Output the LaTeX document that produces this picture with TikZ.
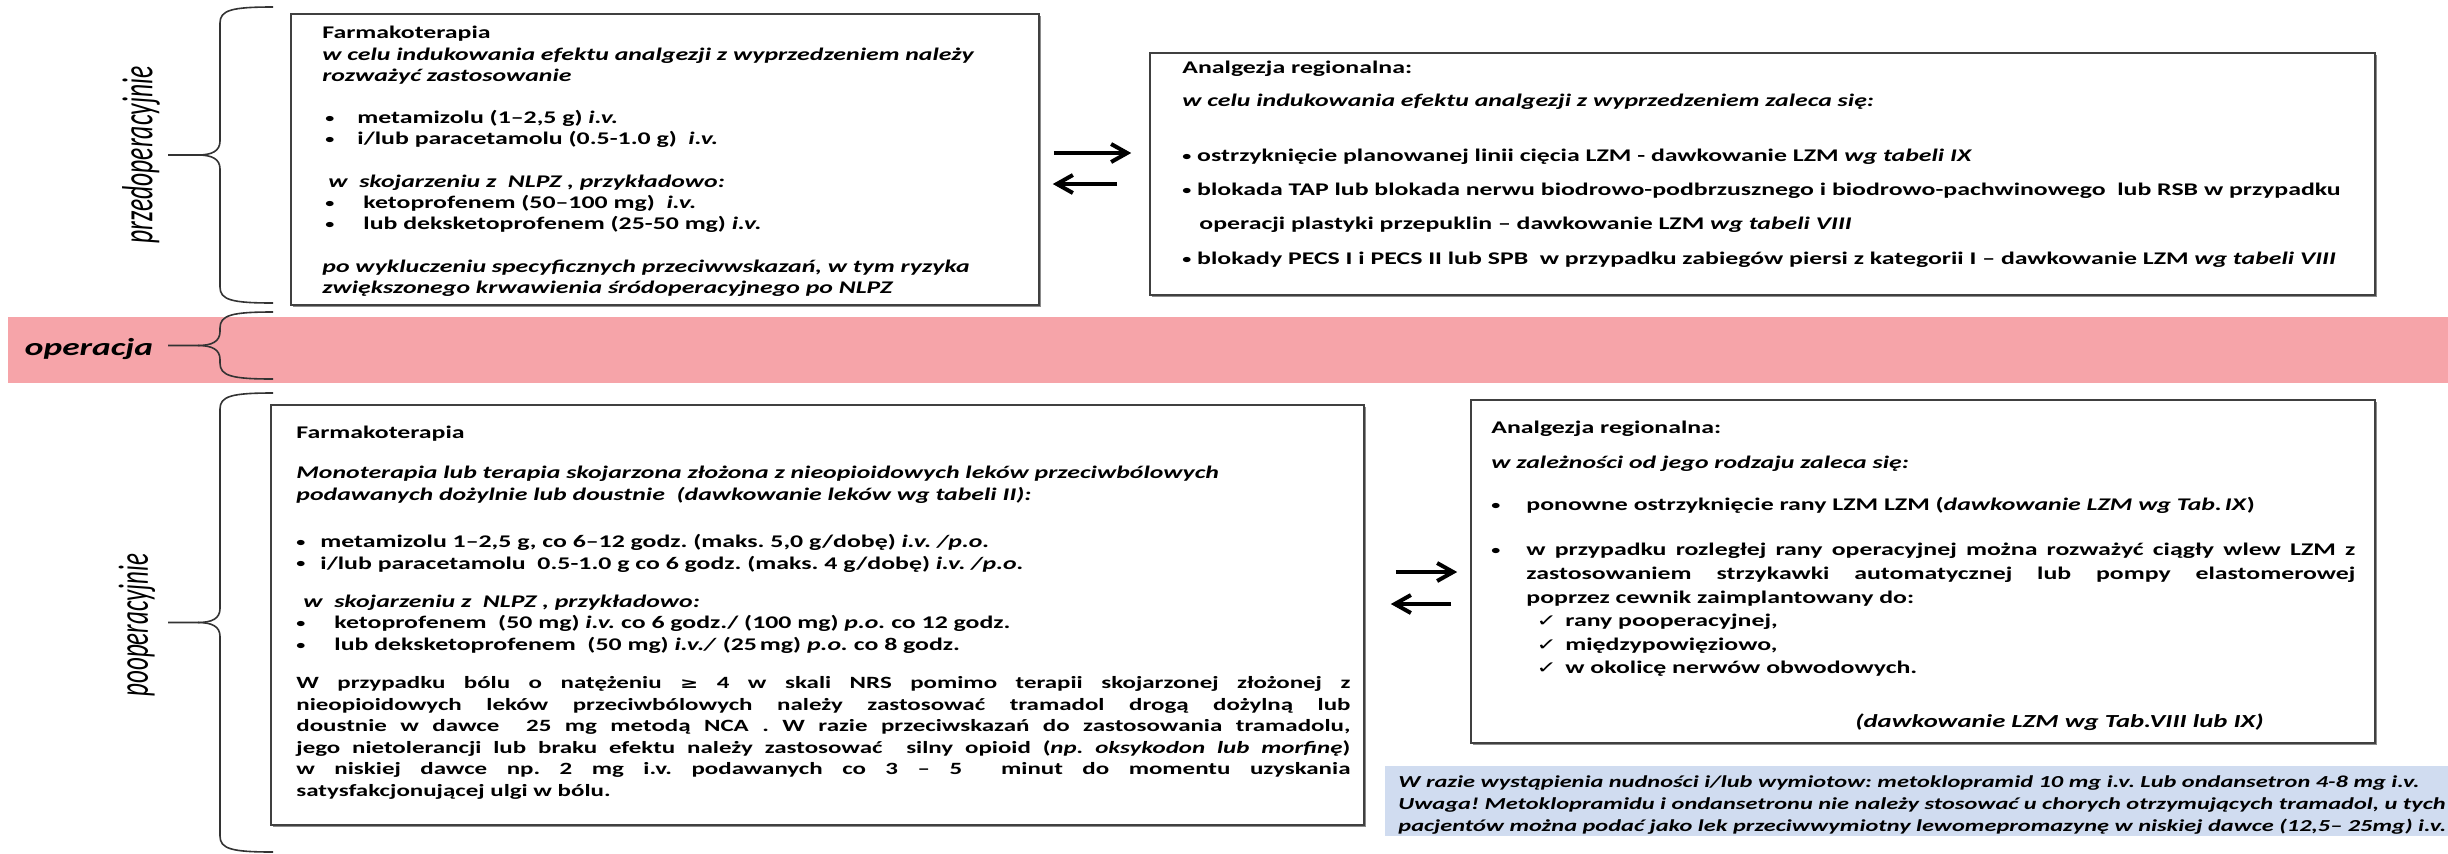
\documentclass[tikz,border=0pt]{standalone}
\usepackage{fontspec}
\usepackage{graphicx}
\setmainfont{Carlito}[FakeStretch=1.45]
\newfontfamily\symfont{DejaVu Sans}[FakeStretch=1.45]
\newfontfamily\sidefont{Carlito}
\usetikzlibrary{arrows.meta,fit,shadows}
\setlength{\parindent}{0pt}
\frenchspacing

\definecolor{opband}{RGB}{246,164,169}
\definecolor{notefill}{RGB}{208,220,240}
\definecolor{framegray}{RGB}{64,64,64}

\newcommand{\blt}{\raisebox{0.6pt}{\scalebox{0.7}{•}}}
\newcommand{\itm}[1][12pt]{\makebox[#1][l]{\blt}}
\newcommand{\chk}{\makebox[14.5pt][l]{\symfont\fontsize{8.5}{9}\selectfont ✓}}

\tikzset{
  x=0.5pt, y=-0.5pt,
  box/.style={draw=framegray, line width=0.8pt, fill=white, inner sep=0pt,
    drop shadow={shadow xshift=1.2pt, shadow yshift=-1.2pt, fill=black!45, opacity=1}},
  notebox/.style={fill=notefill, inner sep=0pt},
  boxtext/.style={anchor=north west, inner sep=0pt, align=left,
    font=\bfseries\fontsize{8.9}{10.6}\selectfont},
  flowarrow/.style={-{Straight Barb[length=8pt,width=9pt]}, line width=2pt},
  bracepen/.style={line width=0.8pt, draw=black!80},
  sidelabel/.style={rotate=90, inner sep=0pt},
}

\begin{document}
\begin{tikzpicture}
\useasboundingbox (0,0) rectangle (2448,853);

% operation band
\node[fill=opband, inner sep=0pt, fit={(8,317) (2448,383)}] (opBand) {};

% phase braces
\foreach \ytop/\ybot in {7/303, 312/379, 393/852} {
  \pgfmathsetmacro\ymid{(\ytop+\ybot)/2}
  \draw[bracepen] (273,\ytop) .. controls (232,\ytop) and (220,\ytop+3) .. (220,\ytop+16)
    -- (220,\ymid-14) .. controls (220,\ymid-4) and (212,\ymid) .. (198,\ymid) -- (168,\ymid);
  \draw[bracepen] (198,\ymid) .. controls (212,\ymid) and (220,\ymid+4) .. (220,\ymid+14)
    -- (220,\ybot-16) .. controls (220,\ybot-3) and (232,\ybot) .. (273,\ybot);
}

% phase labels
\node[sidelabel] (preLabel) at (141,155)
  {\scalebox{1}[1.7]{\sidefont\itshape\fontsize{12.8}{14}\selectfont przedoperacyjnie}};
\node[inner sep=0pt] (opLabel) at (89,349)
  {\bfseries\itshape\fontsize{12.2}{15}\selectfont operacja};
\node[sidelabel] (postLabel) at (137,625)
  {\scalebox{1}[1.7]{\sidefont\itshape\fontsize{12.5}{14}\selectfont pooperacyjnie}};

% boxes
\node[box, fit={(291,14) (1039,305)}] (preFarm) {};
\node[box, fit={(1150,53) (2375,295)}] (preReg) {};
\node[box, fit={(271,405) (1364,825)}] (postFarm) {};
\node[box, fit={(1471,400) (2375,743)}] (postReg) {};
\node[notebox, fit={(1385,766) (2448,836)}] (noteBox) {};

% before the operation
\node[boxtext] (preFarmText) at (322,26) {%
Farmakoterapia\\
\textit{w celu indukowania efektu analgezji z wyprzedzeniem należy}\\
\textit{rozważyć zastosowanie}\\[10.6pt]
\hspace*{1.5pt}\itm[16pt]metamizolu (1–2,5 g) \textit{i.v.}\\
\hspace*{1.5pt}\itm[16pt]i/lub paracetamolu (0.5-1.0 g)\ \ \textit{i.v.}\\[10.6pt]
\hspace*{3pt}\textit{w\ \ skojarzeniu z\ \ NLPZ , przykładowo:}\\
\hspace*{1.5pt}\itm[19pt]ketoprofenem (50–100 mg)\ \ \textit{i.v.}\\
\hspace*{1.5pt}\itm[19pt]lub deksketoprofenem (25-50 mg) \textit{i.v.}\\[10.6pt]
\textit{po wykluczeniu specyficznych przeciwwskazań, w tym ryzyka}\\
\textit{zwiększonego krwawienia śródoperacyjnego po NLPZ}};

\node[boxtext, font=\bfseries\fontsize{8.9}{16.9}\selectfont] (preRegText) at (1182,61) {%
Analgezja regionalna:\\[-0.4pt]
\textit{w celu indukowania efektu analgezji z wyprzedzeniem zaleca się:}\\[10.6pt]
\blt\ ostrzyknięcie planowanej linii cięcia LZM - dawkowanie LZM \textit{wg tabeli IX}\\
\blt\ blokada TAP lub blokada nerwu biodrowo-podbrzusznego i biodrowo-pachwinowego\ \ lub RSB w przypadku\\
\hspace*{8.5pt}operacji plastyki przepuklin – dawkowanie LZM \textit{wg tabeli VIII}\\[0.8pt]
\blt\ blokady PECS I i PECS II lub SPB\ \ w przypadku zabiegów piersi z kategorii I – dawkowanie LZM \textit{wg tabeli VIII}};

% after the operation
\node[boxtext, font=\bfseries\fontsize{8.9}{10.8}\selectfont] (postFarmText) at (296,426) {%
Farmakoterapia\\[9.2pt]
\textit{Monoterapia lub terapia skojarzona złożona z nieopioidowych leków przeciwbólowych}\\
\textit{podawanych dożylnie lub doustnie\ \ (dawkowanie leków wg tabeli II):}\\[12.7pt]
\itm metamizolu 1–2,5 g, co 6–12 godz. (maks. 5,0 g/dobę) \textit{i.v. /p.o.}\\
\itm i/lub paracetamolu\ \ 0.5-1.0 g co 6 godz. (maks. 4 g/dobę) \textit{i.v. /p.o.}\\[8.2pt]
\hspace*{3.5pt}\textit{w\ \ skojarzeniu z\ \ NLPZ , przykładowo:}\\
\itm[19pt]ketoprofenem\ \ (50 mg) \textit{i.v.} co 6 godz./ (100 mg) \textit{p.o.} co 12 godz.\\
\itm[19pt]lub deksketoprofenem\ \ (50 mg) \textit{i.v./} (25\,mg) \textit{p.o.} co 8 godz.};

\node[boxtext, align=justify, text width=527pt, font=\bfseries\fontsize{8.6}{10.8}\selectfont] (postFarmPara) at (296,676) {%
W przypadku bólu o natężeniu {\symfont\fontsize{7.5}{8}\selectfont ≥} 4 w skali NRS pomimo terapii skojarzonej złożonej z\linebreak
nieopioidowych leków przeciwbólowych należy zastosować tramadol drogą dożylną lub\linebreak
doustnie w dawce\ \ 25 mg metodą NCA . W razie przeciwskazań do zastosowania tramadolu,\linebreak
jego nietolerancji lub braku efektu należy zastosować\ \ silny opioid (\textit{np. oksykodon lub morfinę})\linebreak
w niskiej dawce np. 2 mg i.v. podawanych co 3 – 5\ \ minut do momentu uzyskania\linebreak
satysfakcjonującej ulgi w bólu.};

\node[boxtext, align=justify, text width=432pt, font=\bfseries\fontsize{8.9}{11.8}\selectfont] (postRegText) at (1491,421) {%
Analgezja regionalna:\par\vspace{5.7pt}
\textit{w zależności od jego rodzaju zaleca się:}\par\vspace{9.2pt}
\itm[17.5pt]ponowne ostrzyknięcie rany LZM LZM (\textit{dawkowanie LZM wg Tab.\,IX})\par\vspace{10.7pt}
\hangindent=17.5pt\hangafter=1 \itm[17.5pt]w przypadku rozległej rany operacyjnej można rozważyć ciągły wlew LZM z\linebreak
zastosowaniem strzykawki automatycznej lub pompy elastomerowej\linebreak
poprzez cewnik zaimplantowany do:\par
\hspace*{22.5pt}\chk rany pooperacyjnej,\par
\hspace*{22.5pt}\chk międzypowięziowo,\par
\hspace*{22.5pt}\chk w okolicę nerwów obwodowych.};

\node[inner sep=0pt, anchor=east, font=\bfseries\itshape\fontsize{9.2}{10}\selectfont] (postRegDose) at (2264,722)
  {(dawkowanie LZM wg Tab.VIII lub IX)};

\node[boxtext, font=\bfseries\itshape\fontsize{8.4}{11}\selectfont] (noteText) at (1398,775) {%
W razie wystąpienia nudności i/lub wymiotow: metoklopramid 10 mg i.v. Lub ondansetron 4-8 mg i.v.\\
Uwaga! Metoklopramidu i ondansetronu nie należy stosować u chorych otrzymujących tramadol, u tych\\
pacjentów można podać jako lek przeciwwymiotny lewomepromazynę w niskiej dawce (12,5– 25mg) i.v.};

% arrows between the boxes
\coordinate (preFwd) at (0,153);
\coordinate (preBack) at (0,184);
\coordinate (postFwd) at (0,572);
\coordinate (postBack) at (0,604);
\draw[flowarrow, shorten <=7pt, shorten >=9pt] (preFarm.east |- preFwd) -- (preReg.west |- preFwd);
\draw[flowarrow, shorten <=16pt, shorten >=6.5pt] (preReg.west |- preBack) -- (preFarm.east |- preBack);
\draw[flowarrow, shorten <=15.5pt, shorten >=6.5pt] (postFarm.east |- postFwd) -- (postReg.west |- postFwd);
\draw[flowarrow, shorten <=9.5pt, shorten >=13pt] (postReg.west |- postBack) -- (postFarm.east |- postBack);
\end{tikzpicture}
\end{document}
